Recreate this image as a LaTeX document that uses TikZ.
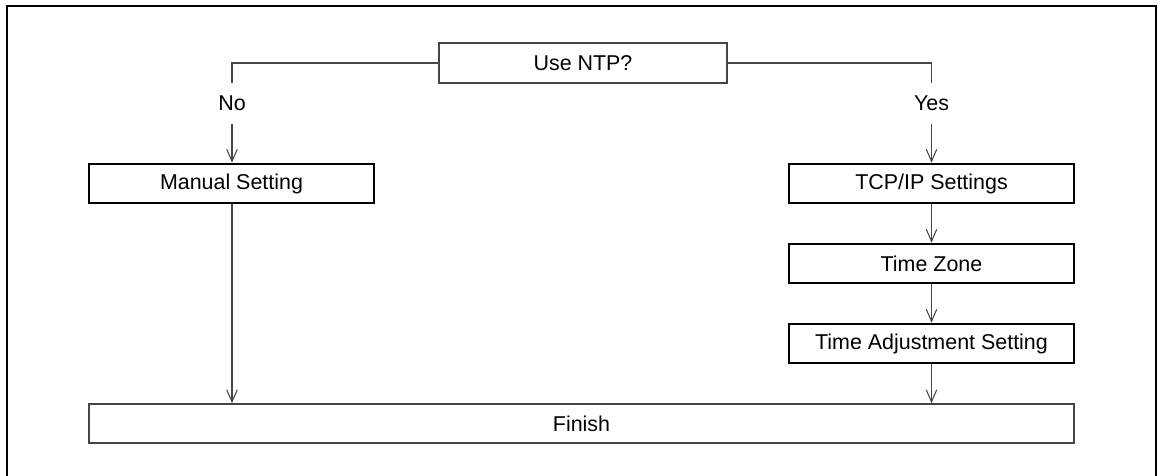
\documentclass[tikz,border=0pt]{standalone}
\usepackage{fontspec}
\setmainfont{Liberation Sans}
\usepackage{tikz}
\usetikzlibrary{arrows.meta,positioning}
\definecolor{linegray}{RGB}{70,70,70}
\tikzset{
  frame/.style={black, line width=1.6pt},
  choice/.style={draw=linegray, line width=1pt, fill=white,
                 minimum width=57.6mm, minimum height=8mm,
                 inner sep=0pt, align=center, font=\fontsize{12.2}{14}\selectfont},
  setting/.style={draw=black, line width=1.6pt, fill=white,
                  minimum width=57mm, minimum height=7.8mm,
                  inner sep=0pt, align=center, font=\fontsize{12.2}{14}\selectfont},
  result/.style={choice, minimum width=197mm, minimum height=7.8mm},
  lab/.style={inner sep=0pt, minimum height=8.2mm, font=\fontsize{12.2}{14}\selectfont},
  wire/.style={linegray, line width=0.6pt},
  flow/.style={wire, -{Straight Barb[length=2.4mm, width=2.1mm]}},
}
\begin{document}
\begin{tikzpicture}[x=0.02cm, y=-0.02cm]
  \useasboundingbox (0,0) rectangle (1161,476);

  % Outer frame, open at the bottom.
  \draw[frame] (7,476) -- (7,6) -- (1156,6) -- (1156,476);

  % Decision.
  \node[choice] (ntp) at (583,63) {Use NTP?};
  \node[lab] (no) at (232,103.5) {No};
  \node[lab] (yes) at (931.5,103.5) {Yes};

  % Manual branch.
  \node[setting] (manual) at (231.5,183.5) {Manual Setting};

  % NTP branch.
  \node[setting] (tcpip) at (931.5,183.5) {TCP/IP Settings};
  \node[setting] (zone) at (931.5,263.5) {Time Zone};
  \node[setting] (adjust) at (931.5,343.5) {Time Adjustment Setting};

  \node[result] (finish) at (581.5,423.5) {Finish};

  % Connectors.
  \draw[wire] (ntp.west) -| (no.north);
  \draw[wire] (ntp.east) -| (yes.north);
  \draw[flow] (no.south) -- (manual.north -| no.south);
  \draw[flow] (yes.south) -- (tcpip.north -| yes.south);
  \draw[flow] (manual.south -| no.south) -- (finish.north -| no.south);
  \draw[flow] (tcpip) -- (zone);
  \draw[flow] (zone) -- (adjust);
  \draw[flow] (adjust.south) -- (finish.north -| adjust.south);
\end{tikzpicture}
\end{document}
